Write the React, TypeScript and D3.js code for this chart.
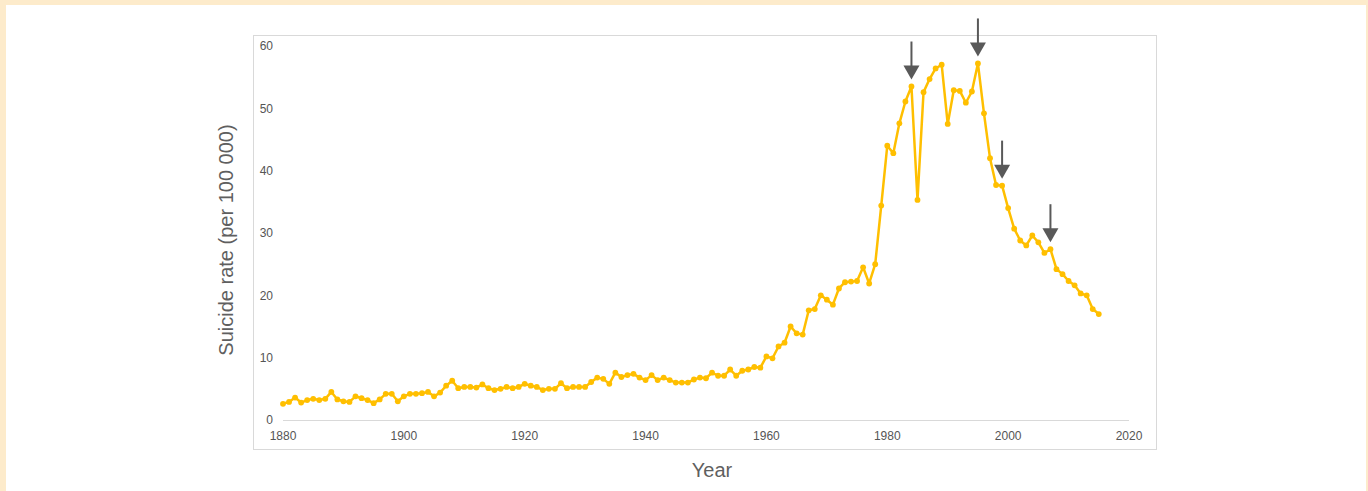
import * as d3 from 'd3';

// years 1880..2015
const startYear = 1880;
const rates = [
  2.6, 2.9, 3.6, 2.8, 3.2, 3.4, 3.2, 3.4, 4.5, 3.3,
  3.0, 2.9, 3.8, 3.5, 3.2, 2.7, 3.3, 4.2, 4.2, 3.0,
  3.8, 4.2, 4.2, 4.3, 4.5, 3.8, 4.4, 5.5, 6.3, 5.1,
  5.3, 5.3, 5.2, 5.7, 5.1, 4.8, 5.0, 5.3, 5.1, 5.3,
  5.8, 5.5, 5.3, 4.8, 5.0, 5.0, 5.9, 5.1, 5.3, 5.3,
  5.3, 6.1, 6.8, 6.6, 5.8, 7.6, 6.9, 7.2, 7.4, 6.8,
  6.4, 7.2, 6.4, 6.8, 6.4, 6.0, 6.0, 6.0, 6.5, 6.8,
  6.7, 7.6, 7.1, 7.1, 8.1, 7.1, 7.9, 8.1, 8.5, 8.4,
  10.2, 9.9, 11.8, 12.4, 15.0, 13.9, 13.7, 17.6, 17.8, 20.0,
  19.3, 18.5, 21.1, 22.1, 22.2, 22.3, 24.5, 21.9, 25.0, 34.4,
  44.0, 42.8, 47.6, 51.1, 53.5, 35.3, 52.6, 54.7, 56.4, 57.0,
  47.5, 52.9, 52.8, 50.9, 52.7, 57.2, 49.2, 42.0, 37.7, 37.6,
  34.0, 30.7, 28.8, 28.0, 29.6, 28.5, 26.8, 27.4, 24.2, 23.4,
  22.3, 21.6, 20.3, 20.0, 17.8, 17.0,
];
const years = rates.map((_, i) => startYear + i);
const xTicks = [1880, 1900, 1920, 1940, 1960, 1980, 2000, 2020];
const yTicks = [0, 10, 20, 30, 40, 50, 60];
const arrowYears = [1984, 1995, 1999, 2007];

const W = 1368;
const H = 491;

export default function App() {
  const x = d3.scaleLinear().domain([1880, 2020]).range([283, 1129]);
  const y = d3.scaleLinear().domain([0, 60]).range([420, 46]);

  const data = years.map((yr, i) => ({ yr, v: rates[i] }));
  const line = d3
    .line<{ yr: number; v: number }>()
    .x((d) => x(d.yr))
    .y((d) => y(d.v));

  const gold = '#FFBF00';
  const font = 'Liberation Sans, Arial, sans-serif';

  return (
    <svg
      width={W}
      height={H}
      style={{ position: 'absolute', left: 0, top: 0, display: 'block' }}
      fontFamily={font}
    >
      <rect x={0} y={0} width={W} height={H} fill="#fdebcb" />
      <rect x={6} y={5} width={W - 8} height={H - 5} fill="#ffffff" />

      {/* plot frame */}
      <rect x={253.5} y={35.5} width={903} height={414} fill="none" stroke="#d9d9d9" strokeWidth={1} />

      {/* baseline */}
      <line x1={x(1880)} x2={x(2020)} y1={y(0) + 0.5} y2={y(0) + 0.5} stroke="#d9d9d9" strokeWidth={1} />

      {/* y ticks */}
      {yTicks.map((t) => (
        <text key={t} x={273} y={y(t)} dy="0.35em" textAnchor="end" fontSize={12} fill="#555">
          {t}
        </text>
      ))}

      {/* x ticks */}
      {xTicks.map((t) => (
        <text key={t} x={x(t)} y={440} textAnchor="middle" fontSize={12} fill="#555">
          {t}
        </text>
      ))}

      {/* axis titles */}
      <text
        transform={`translate(233,${(y(0) + y(60)) / 2 + 7}) rotate(-90)`}
        textAnchor="middle"
        fontSize={20}
        fill="#5f5f5f"
      >
        Suicide rate (per 100 000)
      </text>
      <text x={712} y={477} textAnchor="middle" fontSize={20} fill="#5f5f5f">
        Year
      </text>

      {/* series */}
      <path d={line(data) ?? ''} fill="none" stroke={gold} strokeWidth={2.5} strokeLinejoin="round" />
      {data.map((d) => (
        <circle key={d.yr} cx={x(d.yr)} cy={y(d.v)} r={2.9} fill={gold} />
      ))}

      {/* arrows */}
      {arrowYears.map((yr) => {
        const v = rates[yr - startYear];
        const ax = x(yr);
        const tip = y(v) - 7;
        return (
          <g key={yr} fill="#595959" stroke="#595959">
            <line x1={ax} x2={ax} y1={tip - 38} y2={tip - 12} strokeWidth={2} />
            <path d={`M${ax - 8},${tip - 14}L${ax + 8},${tip - 14}L${ax},${tip}Z`} stroke="none" />
          </g>
        );
      })}
    </svg>
  );
}
